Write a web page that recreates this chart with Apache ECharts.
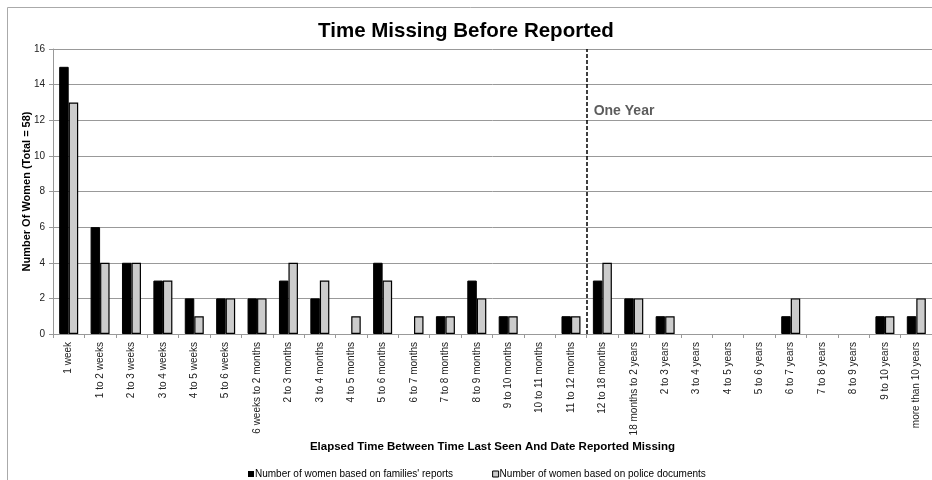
<!DOCTYPE html>
<html>
<head>
<meta charset="utf-8">
<script src="https://cdn.jsdelivr.net/npm/echarts@6/dist/echarts.min.js"></script>
<style>
  html, body { margin: 0; padding: 0; background: #fff; }
  #chart { width: 932px; height: 480px; }
</style>
</head>
<body>
<div id="chart"></div>
<script>
// 数据
const categories = [
  '1 week', '1 to 2 weeks', '2 to 3 weeks', '3 to 4 weeks', '4 to 5 weeks', '5 to 6 weeks',
  '6 weeks to 2 months', '2 to 3 months', '3 to 4 months', '4 to 5 months', '5 to 6 months',
  '6 to 7 months', '7 to 8 months', '8 to 9 months', '9 to 10 months', '10 to 11 months',
  '11 to 12 months', '12 to 18 months', '18 months to 2 years', '2 to 3 years', '3 to 4 years',
  '4 to 5 years', '5 to 6 years', '6 to 7 years', '7 to 8 years', '8 to 9 years',
  '9 to 10 years', 'more than 10 years'
];
const familyReports = [15, 6, 4, 3, 2, 2, 2, 3, 2, 0, 4, 0, 1, 3, 1, 0, 1, 3, 2, 1, 0, 0, 0, 1, 0, 0, 1, 1];
const policeDocs = [13, 4, 4, 3, 1, 2, 2, 4, 3, 1, 3, 1, 1, 2, 1, 0, 1, 4, 2, 1, 0, 0, 0, 2, 0, 0, 1, 2];
const yTicks = [0, 2, 4, 6, 8, 10, 12, 14, 16];
// one-year boundary sits between '11 to 12 months' and '12 to 18 months'
const oneYearAt = categories.indexOf('12 to 18 months');
const oneYearLabelY = 12.5;

const font = 'Liberation Sans, Arial, sans-serif';
const chart = echarts.init(document.getElementById('chart'), null, {renderer: 'canvas'});

// 0 值不画柱子（否则边框会画出一条细线）
const hideZero = arr => arr.map(v => (v === 0 ? null : v));

const option = {
  backgroundColor: '#fff',
  animation: false,
  title: {
    text: 'Time Missing Before Reported',
    left: 'center',
    top: 16,
    textStyle: {fontFamily: font, fontSize: 20.5, fontWeight: 'bold', color: '#000'}
  },
  legend: {
    left: 243,
    top: 464,
    itemWidth: 6,
    itemHeight: 6,
    itemGap: 39,
    textStyle: {fontFamily: font, fontSize: 10, color: '#000', padding: [0, 0, 0, -4]},
    data: [
      {name: "Number of women based on families' reports", icon: 'rect',
        itemStyle: {color: '#000', borderColor: '#000', borderWidth: 0}},
      {name: 'Number of women based on police documents', icon: 'rect',
        itemStyle: {color: '#ccc', borderColor: '#000', borderWidth: 1}}
    ]
  },
  grid: {left: 53, top: 49, right: -4, bottom: 146, containLabel: false},
  xAxis: [
    {
      type: 'category',
      data: categories,
      name: 'Elapsed Time Between Time Last Seen And Date Reported Missing',
      nameLocation: 'middle',
      nameGap: 107,
      nameMoveOverlap: false,
      nameTextStyle: {fontFamily: font, fontSize: 11.5, fontWeight: 'bold', color: '#000'},
      axisLine: {lineStyle: {color: '#999', width: 1}},
      axisTick: {show: true, length: 4, lineStyle: {color: '#999'}},
      axisLabel: {interval: 0, rotate: 90, margin: 8, fontFamily: font, fontSize: 10, color: '#222'}
    },
    {
      type: 'value',
      min: 0,
      max: categories.length,
      show: false
    }
  ],
  yAxis: {
    type: 'value',
    min: yTicks[0],
    max: yTicks[yTicks.length - 1],
    interval: 2,
    name: 'Number Of Women (Total = 58)',
    nameLocation: 'middle',
    nameGap: 21,
    nameMoveOverlap: false,
    nameRotate: 90,
    nameTextStyle: {fontFamily: font, fontSize: 11, fontWeight: 'bold', color: '#000'},
    axisLine: {show: true, lineStyle: {color: '#999'}},
    axisTick: {show: true, length: 4, lineStyle: {color: '#999'}},
    axisLabel: {fontFamily: font, fontSize: 10, color: '#222', margin: 8},
    splitLine: {lineStyle: {color: '#999', width: 1}}
  },
  series: [
    {
      name: "Number of women based on families' reports",
      type: 'bar',
      data: hideZero(familyReports),
      barWidth: 9.5,
      barGap: '0%',
      itemStyle: {color: '#000', borderColor: '#000', borderWidth: 1}
    },
    {
      name: 'Number of women based on police documents',
      type: 'bar',
      data: hideZero(policeDocs),
      barWidth: 9.5,
      barGap: '0%',
      itemStyle: {color: '#ccc', borderColor: '#000', borderWidth: 1.2}
    },
    {
      name: 'oneYear',
      type: 'scatter',
      xAxisIndex: 1,
      symbolSize: 0,
      data: [[oneYearAt, oneYearLabelY]],
      label: {
        show: true,
        position: 'right',
        distance: 7,
        formatter: 'One Year',
        fontFamily: font,
        fontSize: 14,
        fontWeight: 'bold',
        color: '#333'
      },
      markLine: {
        silent: true,
        symbol: 'none',
        label: {show: false},
        lineStyle: {color: '#000', type: [4, 2], width: 1.5},
        data: [{xAxis: oneYearAt}]
      },
      z: 5
    }
  ],
  graphic: [
    {
      type: 'rect',
      shape: {x: 7.5, y: 7.5, width: 940, height: 480},
      style: {fill: 'none', stroke: '#aaa', lineWidth: 1},
      silent: true
    }
  ]
};

chart.setOption(option);
</script>
</body>
</html>
